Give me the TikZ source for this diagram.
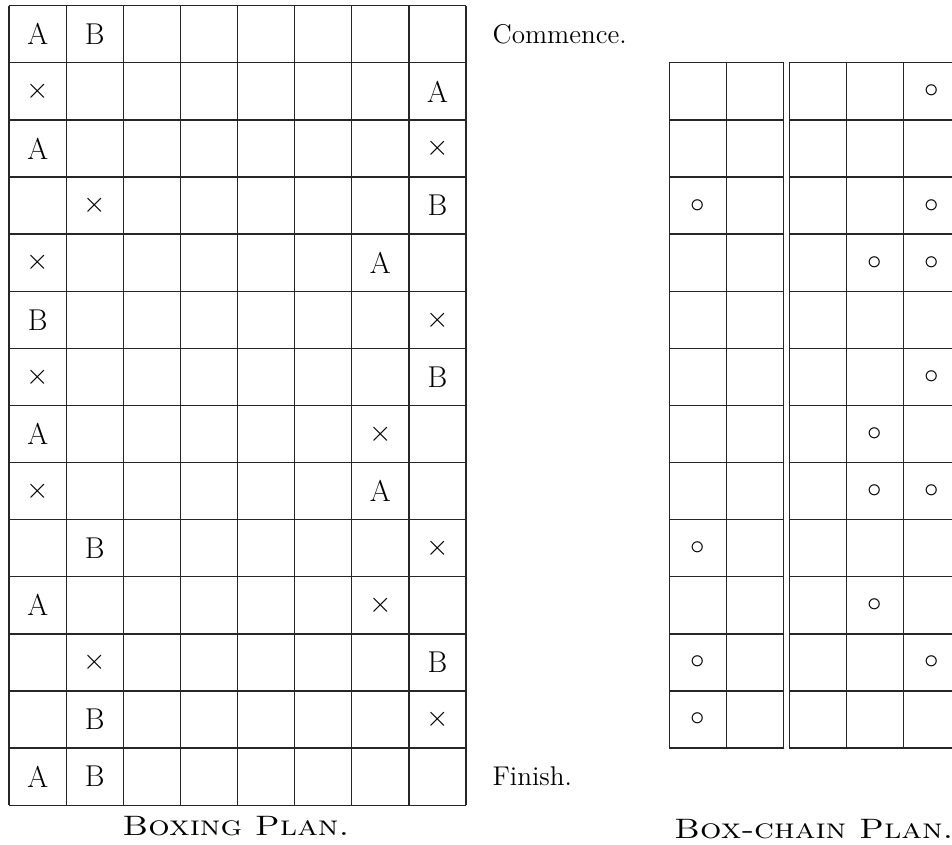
\documentclass[tikz,border=0pt]{standalone}
\usepackage{amsmath,amssymb}
\usetikzlibrary{positioning}

\begin{document}
\begin{tikzpicture}[
  font=\fontsize{13.5}{16}\selectfont,
  gl/.style={line width=0.65pt, black!85},
  c/.style={inner sep=0pt, font=\fontsize{15}{18}\selectfont},
  side/.style={anchor=west, inner sep=0pt},
  ttl/.style={font=\fontsize{14}{17}\selectfont\scshape, inner sep=0pt}
]
\useasboundingbox (0,0) rectangle (16.67,-14.78);
\clip (0,0) rectangle (16.67,-14.78);

% boxing plan
\begin{scope}[shift={(0.16,-0.1)}]
\draw[gl] (0,0) grid (8,-14);
\foreach \r/\k/\t in {1/1/A, 1/2/B, 2/1/{$\times$}, 2/8/A, 3/1/A, 3/8/{$\times$},
    4/2/{$\times$}, 4/8/B, 5/1/{$\times$}, 5/7/A, 6/1/B, 6/8/{$\times$},
    7/1/{$\times$}, 7/8/B, 8/1/A, 8/7/{$\times$}, 9/1/{$\times$}, 9/7/A,
    10/2/B, 10/8/{$\times$}, 11/1/A, 11/7/{$\times$}, 12/2/{$\times$}, 12/8/B,
    13/2/B, 13/8/{$\times$}, 14/1/A, 14/2/B}
  \node[c] (b\r-\k) at (\k-0.5,0.5-\r) {\t};
\coordinate (btop) at (8,-0.5);
\coordinate (bbot) at (8,-13.5);
\coordinate (bmid) at (3.97,-14.36);
\end{scope}
\node[side, right=0.46 of btop] (start) {Commence.};
\node[side, right=0.46 of bbot] (finish) {Finish.};
\node[ttl] (boxing) at (bmid) {\scalebox{1.2}[1]{Boxing Plan.}};

% box-chain plan
\begin{scope}[shift={(11.72,-1.1)}]
\draw[gl] (0,0) grid (2,-12);
\draw[gl] (2.1,0) -- (2.1,-12);
\foreach \r/\k in {1/5, 3/1, 3/5, 4/4, 4/5, 6/5, 7/4, 8/4, 8/5, 9/1,
    10/4, 11/1, 11/5, 12/1}
  \node[c] (o\r-\k) at ({\k-0.5+0.1*(\k>2)},0.5-\r) {$\circ$};
\coordinate (cmid) at (2.53,-13.42);
\end{scope}
\begin{scope}[shift={(13.82,-1.1)}]
\draw[gl] (0,0) grid (3,-12);
\end{scope}
\node[ttl] (chain) at (cmid) {\scalebox{1.2}[1]{Box-chain Plan.}};
\end{tikzpicture}
\end{document}
